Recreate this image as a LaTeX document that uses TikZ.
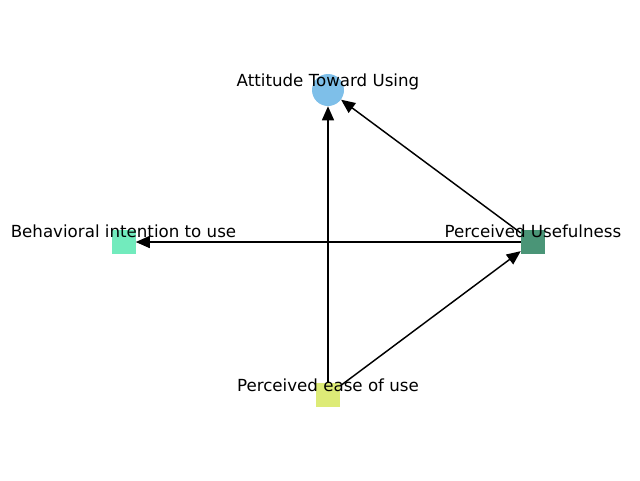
\documentclass[tikz,border=0pt]{standalone}
\usepackage{fontspec}
\setmainfont{DejaVu Sans}
\usetikzlibrary{positioning}
\usetikzlibrary{arrows.meta}
\definecolor{attblue}{HTML}{7EBFE9}
\definecolor{intmint}{HTML}{72EBBD}
\definecolor{usegreen}{HTML}{4A9577}
\definecolor{easeyellow}{HTML}{DDEB77}
\tikzset{ed/.style={-{Triangle[length=10.5pt,width=9pt]},line width=1.1pt}}
\tikzset{sq/.style={rectangle, minimum size=18pt, inner sep=0pt}}
\tikzset{rnd/.style={circle, minimum size=24pt, inner sep=0pt}}
\tikzset{lbl/.style={anchor=base, inner sep=0pt, font=\fontsize{12.5}{15}\selectfont}}

\begin{document}
\begin{tikzpicture}[x=0.75pt, y=-0.75pt]
        \useasboundingbox (0,0) rectangle (640,480);

        \node[rnd, fill=attblue] (att) at (328, 90) {};
        \node[sq, fill=intmint] (bi) at (123.5, 242) {};
        \node[sq, fill=usegreen] (pu) at (533, 242) {};
        \node[sq, fill=easeyellow] (peou) at (328, 395) {};

        \draw [ed] (pu) -- (att);
        \draw [ed] (pu) -- (bi);
        \draw [ed] (peou) -- (att);
        \draw [ed] (peou) -- (pu);

        \node[lbl] (attlbl) at (328, 86) {Attitude Toward Using};
        \node[lbl] (bilbl) at (123.5, 237) {Behavioral intention to use};
        \node[lbl] (pulbl) at (533, 237) {Perceived Usefulness};
        \node[lbl] (peoulbl) at (328, 391) {Perceived ease of use};
    \end{tikzpicture}
\end{document}
